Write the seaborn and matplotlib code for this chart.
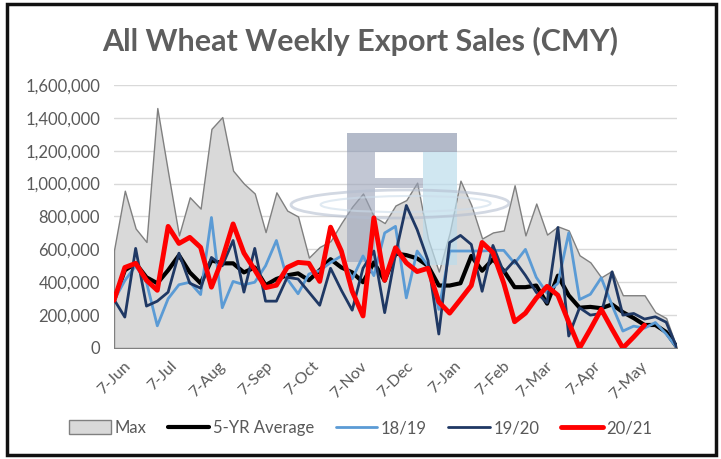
import numpy as np
import pandas as pd
import matplotlib
matplotlib.use("Agg")
import matplotlib.pyplot as plt
import matplotlib.ticker as mticker
from matplotlib.patches import Rectangle, Ellipse, Patch
from matplotlib.lines import Line2D
import seaborn as sns

# ---------------- data ----------------
week_start = "2020-06-01"
n_weeks = 53

max_vals = [595000, 957000, 727000, 645000, 1460000, 1068000, 685000, 917000, 848000, 1333000,
            1405000, 1079000, 1000000, 940000, 705000, 947000, 836000, 800000, 550000, 615000,
            650000, 760000, 860000, 940000, 800000, 760000, 867000, 900000, 1006000, 666000,
            465000, 700000, 1018000, 870000, 666000, 703000, 715000, 990000, 685000, 879000,
            690000, 740000, 715000, 564000, 521000, 430000, 470000, 321000, 321000, 321000,
            218000, 182000, 0]

avg_vals = [290000, 473000, 515000, 430000, 394000, 473000, 564000, 460000, 394000, 533000,
            515000, 515000, 460000, 490000, 382000, 420000, 442000, 454000, 412000, 473000,
            540000, 490000, 460000, 400000, 520000, 410000, 575000, 565000, 545000, 500000,
            380000, 380000, 394000, 560000, 470000, 540000, 470000, 370000, 370000, 380000,
            270000, 440000, 320000, 245000, 250000, 242000, 265000, 218000, 182000, 140000,
            140000, 97000, 5000]

vals_1819 = [290000, 410000, 500000, 400000, 135000, 300000, 385000, 400000, 325000, 794000,
             245000, 405000, 385000, 400000, 500000, 654000, 420000, 330000, 450000, 470000,
             520000, 560000, 420000, 560000, 440000, 700000, 740000, 305000, 590000, 500000,
             235000, 590000, 590000, 590000, 590000, 594000, 594000, 515000, 600000, 430000,
             333000, 394000, 700000, 295000, 327000, 427000, 260000, 103000, 133000, 121000,
             155000, 85000, 0]

vals_1920 = [295000, 188000, 606000, 255000, 285000, 340000, 577000, 394000, 364000, 551000,
             500000, 654000, 340000, 606000, 285000, 285000, 430000, 420000, 340000, 260000,
             485000, 351000, 230000, 485000, 590000, 215000, 570000, 867000, 720000, 533000,
             85000, 642000, 685000, 630000, 345000, 624000, 460000, 533000, 442000, 339000,
             275000, 733000, 73000, 245000, 200000, 210000, 463000, 200000, 210000, 176000,
             190000, 157000, 0]

vals_2021 = [290000, 490000, 515000, 412000, 351000, 740000, 636000, 673000, 612000, 370000,
             540000, 755000, 578000, 475000, 367000, 382000, 490000, 521000, 515000, 405000,
             735000, 590000, 345000, 195000, 792000, 412000, 610000, 518000, 465000, 485000,
             280000, 212000, 295000, 380000, 642000, 580000, 394000, 160000, 212000, 303000,
             375000, 321000, 157000, 0, 115000, 235000, 115000, 0, 67000, 139000,
             np.nan, np.nan, np.nan]

month_ticks = ["2020-06-07", "2020-07-07", "2020-08-07", "2020-09-07", "2020-10-07", "2020-11-07",
               "2020-12-07", "2021-01-07", "2021-02-07", "2021-03-07", "2021-04-07", "2021-05-07"]
month_labels = ["7-Jun", "7-Jul", "7-Aug", "7-Sep", "7-Oct", "7-Nov",
                "7-Dec", "7-Jan", "7-Feb", "7-Mar", "7-Apr", "7-May"]

title = "All Wheat Weekly Export Sales (CMY)"
series_names = ["Max", "5-YR Average", "18/19", "19/20", "20/21"]

# ---------------- figure ----------------
sns.set_theme(style="white")
plt.rcParams['font.family'] = ['Lato', 'DejaVu Sans']

weeks = pd.date_range(week_start, periods=n_weeks, freq="7D")
df = pd.DataFrame({"week": weeks, "Max": max_vals, "5-YR Average": avg_vals,
                   "18/19": vals_1819, "19/20": vals_1920, "20/21": vals_2021})

W, H = 721, 459
fig = plt.figure(figsize=(W / 100, H / 100), dpi=100)
fig.patch.set_facecolor("white")
ax_l, ax_r, ax_t, ax_b = 114, 677, 85, 348
ax = fig.add_axes([ax_l / W, 1 - ax_b / H, (ax_r - ax_l) / W, (ax_b - ax_t) / H])

text_col = "#595959"
grid_col = "#D9D9D9"

# gridlines
for v in range(0, 1600001, 200000):
    ax.axhline(v, color=grid_col, lw=1, zorder=0)

# Max area
ax.fill_between(df["week"], 0, df["Max"], facecolor="#D9D9D9", edgecolor="#808080",
                lw=1.0, zorder=1)

# watermark logo (semi transparent)
logo_col = "#9AA3B8"
def px_rect(x0, y0, x1, y1, color, alpha):
    xa = (x0 - ax_l) / (ax_r - ax_l)
    ya = (ax_b - y1) / (ax_b - ax_t)
    wa = (x1 - x0) / (ax_r - ax_l)
    ha = (y1 - y0) / (ax_b - ax_t)
    ax.add_patch(Rectangle((xa, ya), wa, ha, transform=ax.transAxes, facecolor=color,
                           edgecolor="none", alpha=alpha, zorder=1.5))
px_rect(347, 133, 457, 152, logo_col, 0.75)
px_rect(347, 152, 375, 262, logo_col, 0.6)
px_rect(375, 178, 423, 188, logo_col, 0.6)
px_rect(423, 152, 457, 265, "#BCDDEC", 0.7)
ex = (400 - ax_l) / (ax_r - ax_l)
ey = (ax_b - 204) / (ax_b - ax_t)
ax.add_patch(Ellipse((ex, ey), 218 / (ax_r - ax_l), 28 / (ax_b - ax_t), angle=1.0,
                     transform=ax.transAxes, facecolor="none", edgecolor="#B4BED0",
                     lw=2, alpha=0.6, zorder=1.6))
ax.add_patch(Ellipse((ex + 0.01, ey), 170 / (ax_r - ax_l), 16 / (ax_b - ax_t), angle=1.0,
                     transform=ax.transAxes, facecolor="none", edgecolor="#CCDCEA",
                     lw=1.5, alpha=0.6, zorder=1.6))

# lines
styles = {
    "5-YR Average": dict(color="#000000", lw=3.0, z=3),
    "18/19": dict(color="#5B9BD5", lw=2.0, z=4),
    "19/20": dict(color="#1F3864", lw=2.0, z=5),
    "20/21": dict(color="#FF0000", lw=3.5, z=6),
}
for name, st in styles.items():
    sns.lineplot(data=df, x="week", y=name, color=st["color"], lw=st["lw"], ax=ax,
                 zorder=st["z"], legend=False)

ax.set_xlim(weeks[0], weeks[-1])
ax.set_ylim(0, 1600000)
ax.set_xlabel("")
ax.set_ylabel("")
for s in ax.spines.values():
    s.set_visible(False)

ax.set_yticks(range(0, 1600001, 200000))
ax.yaxis.set_major_formatter(mticker.FuncFormatter(lambda v, p: f"{int(v):,}"))
ax.set_xticks(pd.to_datetime(month_ticks))
ax.set_xticklabels(month_labels, rotation=45, ha="right", rotation_mode="anchor")
ax.tick_params(axis="both", length=0, colors=text_col)
ax.tick_params(axis="y", pad=10, labelsize=12)
ax.tick_params(axis="x", pad=8, labelsize=11.5)
ax.grid(False)

# title
fig.text(0.5, 1 - 41 / H, title, ha="center", va="center", fontsize=22,
         fontweight="bold", color="#5E5E5E")

# legend
handles = [Patch(facecolor="#D9D9D9", edgecolor="#808080", lw=1),
           Line2D([], [], color="#000000", lw=3.0),
           Line2D([], [], color="#5B9BD5", lw=2.0),
           Line2D([], [], color="#1F3864", lw=2.0),
           Line2D([], [], color="#FF0000", lw=3.5)]
leg = fig.legend(handles, series_names, loc="center", bbox_to_anchor=(0.5, 1 - 428 / H),
                 ncol=5, frameon=False, fontsize=12, handlelength=2.5, handleheight=0.9,
                 columnspacing=1.3, handletextpad=0.2)
for t in leg.get_texts():
    t.set_color(text_col)

# outer border
fig.add_artist(Rectangle((7 / W, 4 / H), (716 - 7) / W, (455 - 4) / H, transform=fig.transFigure,
                         fill=False, edgecolor="#111111", lw=2.5))

fig.savefig("out.png", dpi=100, facecolor="white")
